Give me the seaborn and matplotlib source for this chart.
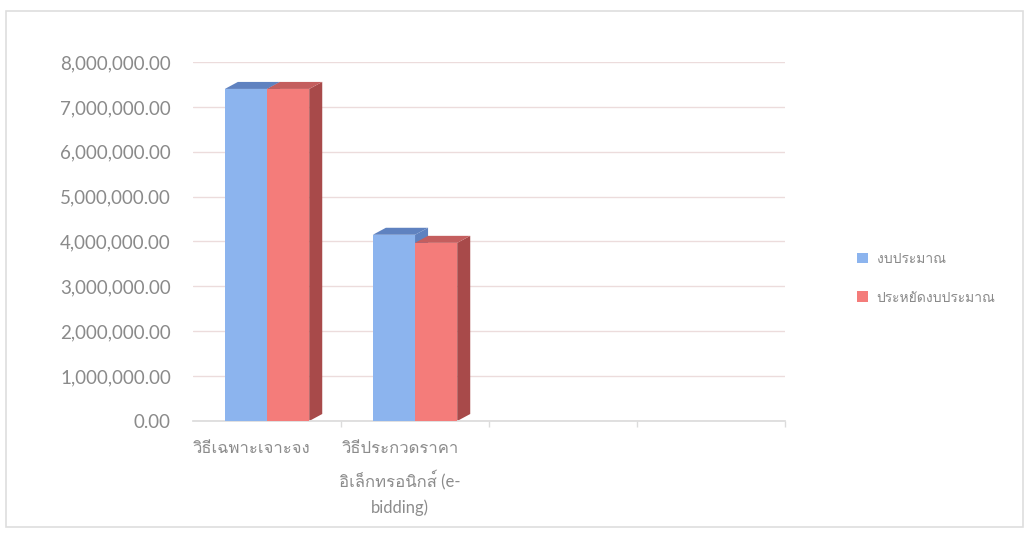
import pandas as pd
import seaborn as sns
import matplotlib.pyplot as plt
import matplotlib.transforms as mtransforms
from matplotlib import font_manager
from matplotlib.ft2font import FT2Font
from matplotlib.patches import Polygon, Rectangle
from matplotlib.ticker import FuncFormatter

methods = ["วิธีเฉพาะเจาะจง", "วิธีประกวดราคาอิเล็กทรอนิกส์ (e-bidding)"]
method_labels = ["วิธีเฉพาะเจาะจง", "วิธีประกวดราคา\nอิเล็กทรอนิกส์ (e-\nbidding)"]
series = ["งบประมาณ", "ประหยัดงบประมาณ"]
budget = [7400000, 4150000]
saving = [7400000, 3970000]

colors = ["#8cb4ee", "#f47c7a"]
top_colors = ["#5f82c0", "#c45e5e"]
side_colors = ["#5f82c0", "#a84a4a"]


def find_thai_family():
    for f in font_manager.fontManager.ttflist:
        try:
            if 0x0E01 in FT2Font(f.fname).get_charmap():
                return f.name
        except Exception:
            pass
    return None


sns.set_theme(style="white")
thai = find_thai_family()
fams = ["Lato"] + ([thai] if thai else []) + ["DejaVu Sans"]
plt.rcParams["font.family"] = fams

df = pd.DataFrame({
    "method": methods * 2,
    "series": [series[0]] * 2 + [series[1]] * 2,
    "value": budget + saving,
})

fig = plt.figure(figsize=(10.29, 5.35), dpi=100)
ax = fig.add_axes([0.1876, 0.2131, 0.5753, 0.671])

sns.barplot(data=df, x="method", y="value", hue="series", order=methods,
            hue_order=series, palette=colors, width=0.57, saturation=1,
            linewidth=0, ax=ax, zorder=3, legend=False)

ax.set_xlim(-0.5, 3.5)
ax.set_ylim(0, 8000000)

# fake 3D depth from the drawn bars
dx, dy = 0.088, 156000
for i, p in enumerate(ax.patches):
    k = i // len(methods)
    x, w, h = p.get_x(), p.get_width(), p.get_height()
    side = Polygon([(x + w, 0), (x + w + dx, dy), (x + w + dx, h + dy), (x + w, h)],
                   closed=True, facecolor=side_colors[k], edgecolor="none", zorder=1)
    top = Polygon([(x, h), (x + dx, h + dy), (x + w + dx, h + dy), (x + w, h)],
                  closed=True, facecolor=top_colors[k], edgecolor="none", zorder=1)
    ax.add_patch(side)
    ax.add_patch(top)
    p.set_clip_on(False)

ax.set_yticks(range(0, 8000001, 1000000))
ax.yaxis.set_major_formatter(FuncFormatter(lambda v, _: f"{v:,.2f}"))
ax.grid(axis="y", color="#ecdcdc", linewidth=1, zorder=0)
ax.set_axisbelow(True)
for s in ["top", "right", "left"]:
    ax.spines[s].set_visible(False)
ax.spines["bottom"].set_color("#dcdcdc")

ax.set_xticks(range(len(methods)))
ax.set_xticklabels(method_labels, fontsize=12, color="#8c8c8c", linespacing=1.75)
ax.set_xticks([0.5, 1.5, 2.5, 3.5], minor=True)
ax.tick_params(axis="x", which="major", length=0, pad=14)
ax.tick_params(axis="x", which="minor", length=4, color="#dcdcdc", bottom=True)
ax.tick_params(axis="y", length=0, pad=16, labelsize=13.5, labelcolor="#8a8a8a")
off = mtransforms.ScaledTranslation(-15 / 100, 0, fig.dpi_scale_trans)
for lab in ax.get_xticklabels():
    lab.set_transform(lab.get_transform() + off)
ax.set_xlabel("")
ax.set_ylabel("")

handles = [Rectangle((0, 0), 1, 1, facecolor=c, edgecolor="none") for c in colors]
fig.legend(handles, series, loc="center left", bbox_to_anchor=(0.821, 0.48),
           frameon=False, fontsize=10, labelcolor="#8a8a8a", handlelength=0.8,
           handleheight=0.8, labelspacing=1.9, handletextpad=0.6)

fig.patches.append(Rectangle((0.006, 0.015), 0.988, 0.965, transform=fig.transFigure,
                             fill=False, edgecolor="#dedede", linewidth=1.2))

fig.savefig("out.png", dpi=100, facecolor="white")
